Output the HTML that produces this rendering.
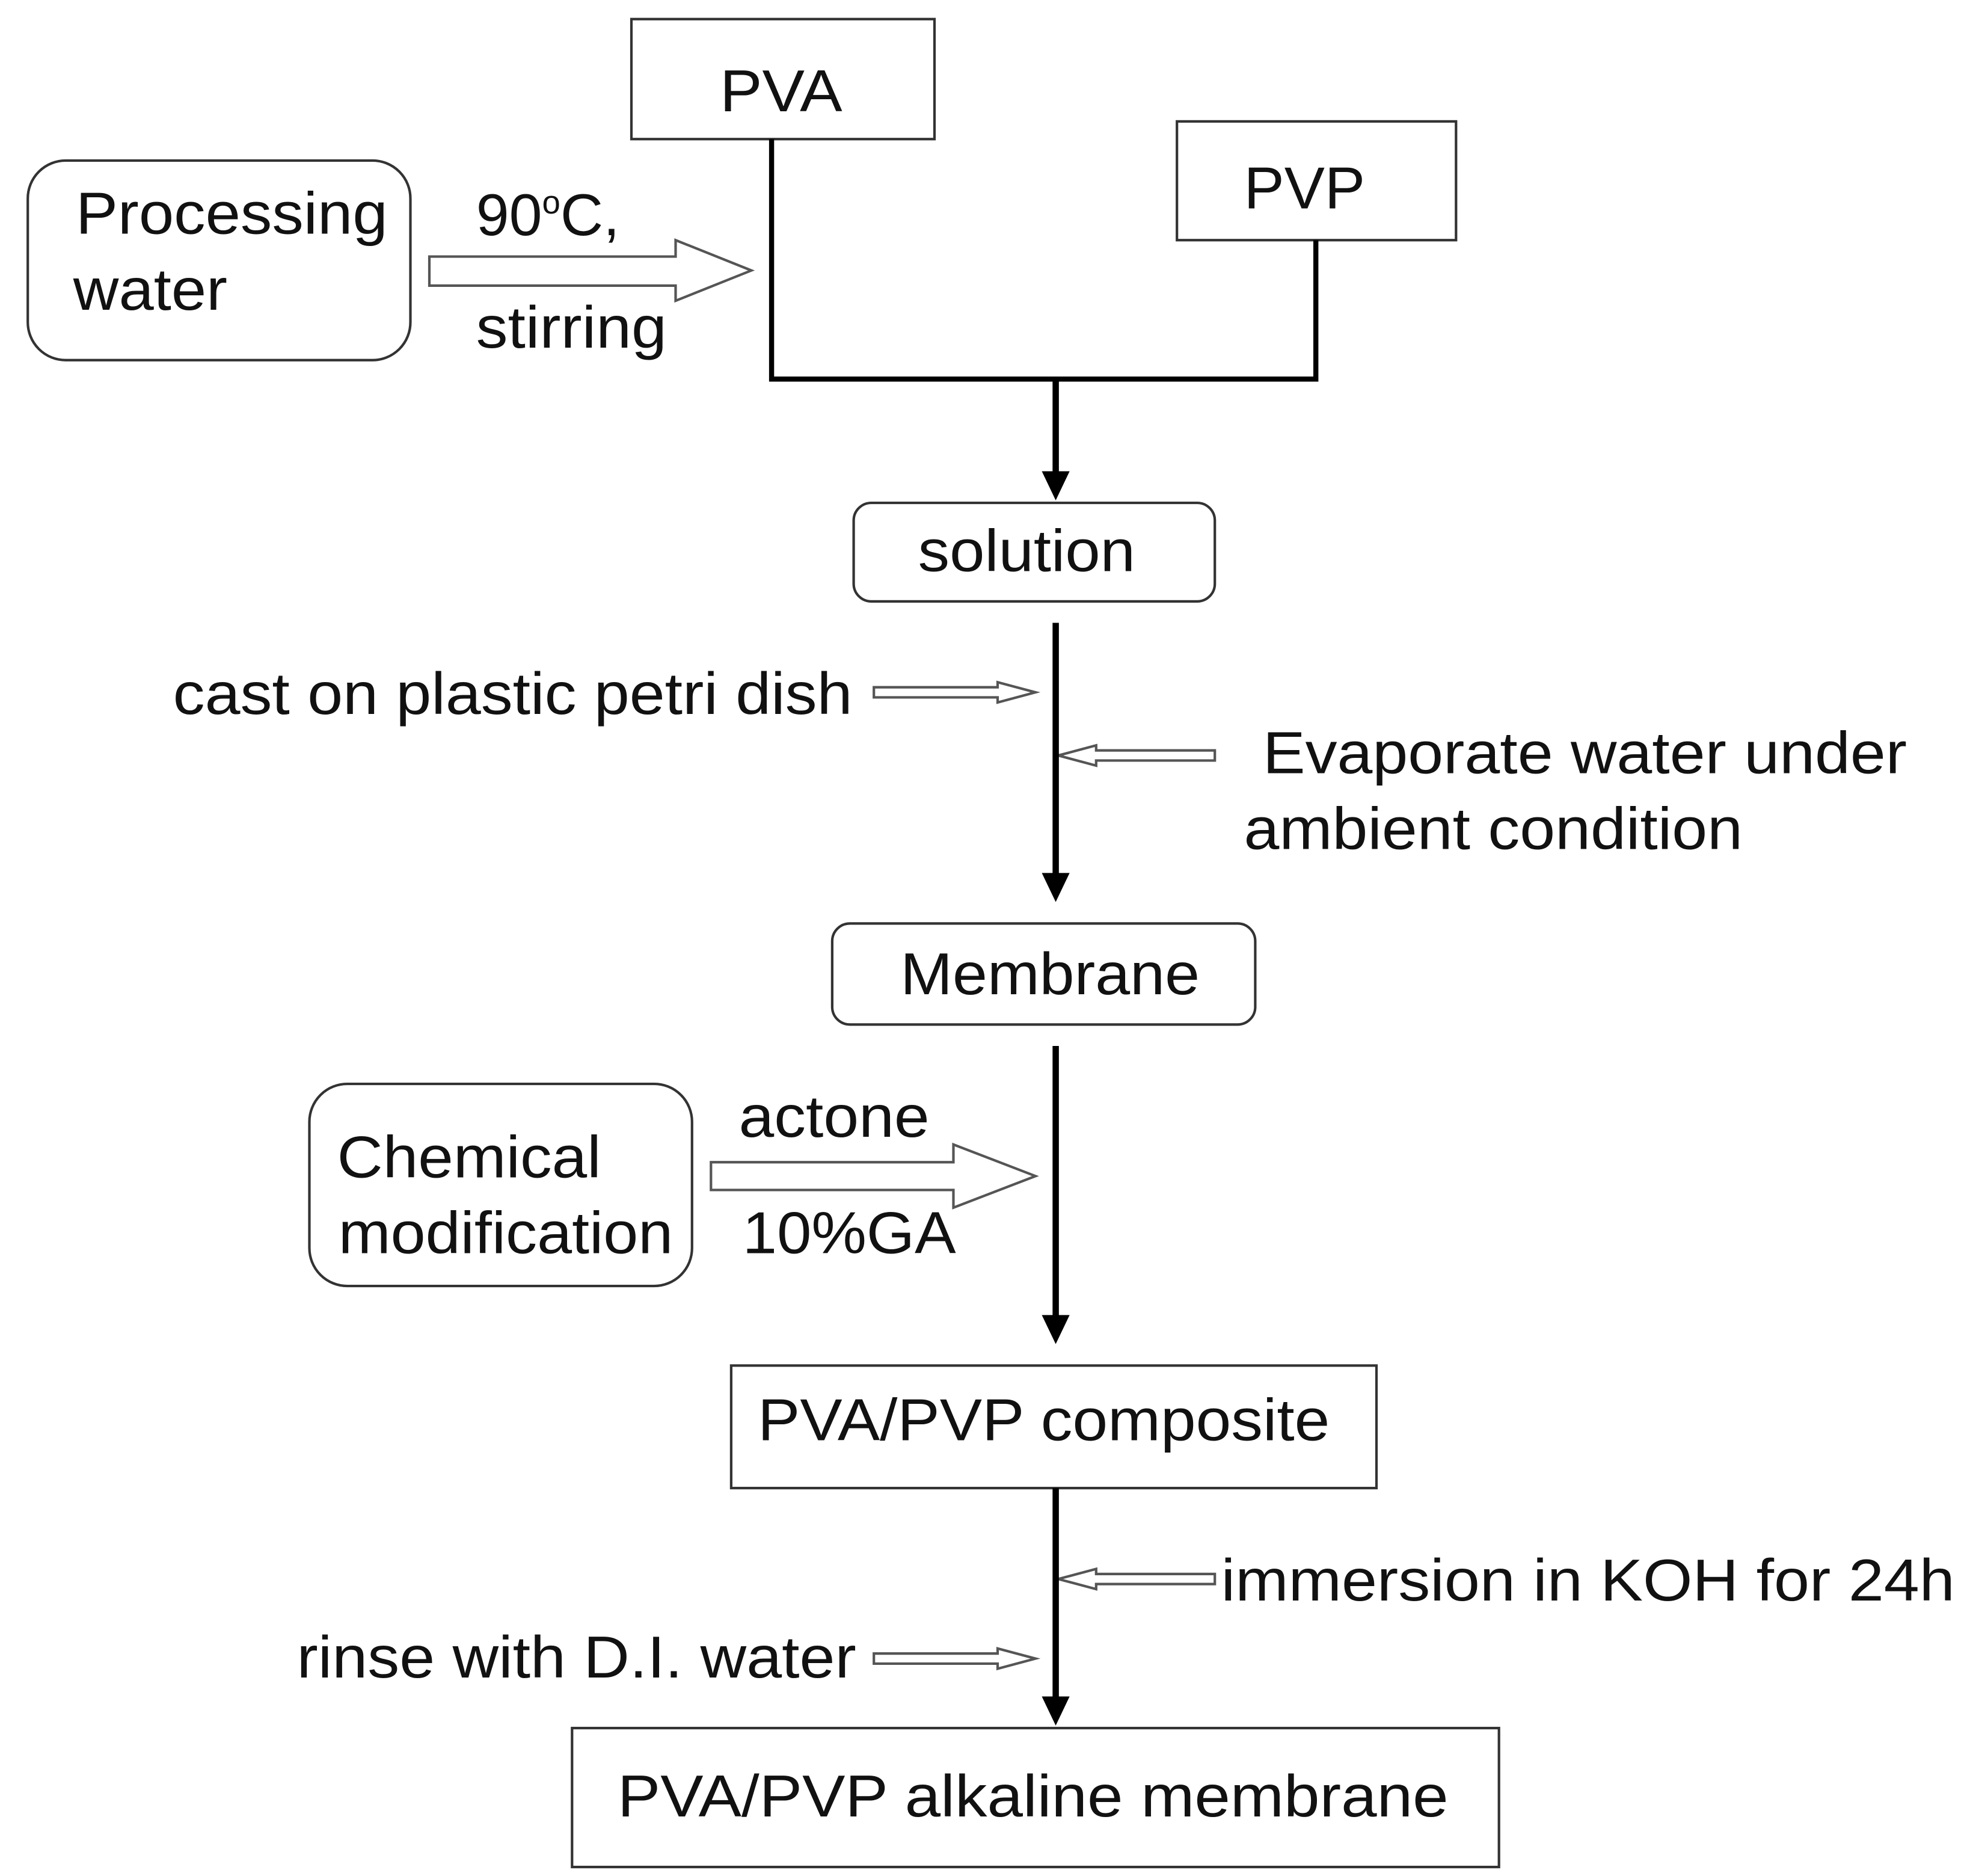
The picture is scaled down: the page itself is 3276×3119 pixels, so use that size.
<!DOCTYPE html>
<html><head><meta charset="utf-8"><style>
html,body{margin:0;padding:0;background:#fff;}
svg{display:block;}
text{font-family:"Liberation Sans",Arial,sans-serif;font-size:47px;fill:#111;}
</style></head><body>
<svg width="3276" height="3119" viewBox="0 0 1560 1485" xmlns="http://www.w3.org/2000/svg">
<g fill="none" stroke="#333" stroke-width="2">
<rect x="500" y="15" width="240" height="95"/>
<rect x="932" y="96" width="221" height="94"/>
<rect x="22" y="127" width="303" height="158" rx="30"/>
<rect x="676" y="398" width="286" height="78" rx="14"/>
<rect x="659" y="731" width="335" height="80" rx="14"/>
<rect x="245" y="858" width="303" height="160" rx="30"/>
<rect x="579" y="1081" width="511" height="97"/>
<rect x="453" y="1368" width="734" height="110"/>
<path d="M340,203 L535,203 L535,190 L595,214 L535,238 L535,226 L340,226 Z" stroke="#555"/>
<path d="M563,920 L755,920 L755,906 L820,931 L755,956 L755,942 L563,942 Z" stroke="#555"/>
<path d="M692,544 L790,544 L790,540 L820,548 L790,556 L790,552 L692,552 Z" stroke="#555"/>
<path d="M962,594 L868,594 L868,590 L838,598 L868,606 L868,602 L962,602 Z" stroke="#555"/>
<path d="M962,1246 L868,1246 L868,1242 L838,1250 L868,1258 L868,1254 L962,1254 Z" stroke="#555"/>
<path d="M692,1309 L790,1309 L790,1305 L820,1313 L790,1321 L790,1317 L692,1317 Z" stroke="#555"/>
</g>
<g stroke="#000" fill="none">
<path d="M611,110 L611,300 L1042,300 L1042,190" stroke-width="4"/>
<line x1="836" y1="300" x2="836" y2="375" stroke-width="5"/>
<line x1="836" y1="493" x2="836" y2="693" stroke-width="5"/>
<line x1="836" y1="828" x2="836" y2="1043" stroke-width="5"/>
<line x1="836" y1="1178" x2="836" y2="1345" stroke-width="5"/>
</g>
<g fill="#000">
<path d="M825,373 L847,373 L836,396 Z"/>
<path d="M825,691 L847,691 L836,714 Z"/>
<path d="M825,1041 L847,1041 L836,1064 Z"/>
<path d="M825,1343 L847,1343 L836,1366 Z"/>
</g>
<g lengthAdjust="spacingAndGlyphs">
<text x="570" y="88" textLength="97" lengthAdjust="spacingAndGlyphs">PVA</text>
<text x="985" y="165" textLength="96" lengthAdjust="spacingAndGlyphs">PVP</text>
<text x="60" y="185" textLength="247" lengthAdjust="spacingAndGlyphs">Processing</text>
<text x="58" y="245" textLength="122" lengthAdjust="spacingAndGlyphs">water</text>
<text x="377" y="186">90<tspan font-size="26" dy="-17">o</tspan><tspan dy="17">C,</tspan></text>
<text x="377" y="275" textLength="151" lengthAdjust="spacingAndGlyphs">stirring</text>
<text x="727" y="452" textLength="172" lengthAdjust="spacingAndGlyphs">solution</text>
<text x="137" y="565" textLength="538" lengthAdjust="spacingAndGlyphs">cast on plastic petri dish</text>
<text x="1000" y="612" textLength="510" lengthAdjust="spacingAndGlyphs">Evaporate water under</text>
<text x="985" y="672" textLength="395" lengthAdjust="spacingAndGlyphs">ambient condition</text>
<text x="713" y="787" textLength="237" lengthAdjust="spacingAndGlyphs">Membrane</text>
<text x="267" y="932" textLength="209" lengthAdjust="spacingAndGlyphs">Chemical</text>
<text x="268" y="992" textLength="265" lengthAdjust="spacingAndGlyphs">modification</text>
<text x="585" y="900" textLength="151" lengthAdjust="spacingAndGlyphs">actone</text>
<text x="588" y="992" textLength="169" lengthAdjust="spacingAndGlyphs">10%GA</text>
<text x="600" y="1140" textLength="453" lengthAdjust="spacingAndGlyphs">PVA/PVP composite</text>
<text x="967" y="1267" textLength="581" lengthAdjust="spacingAndGlyphs">immersion in KOH for 24h</text>
<text x="235" y="1328" textLength="443" lengthAdjust="spacingAndGlyphs">rinse with D.I. water</text>
<text x="489" y="1438" textLength="658" lengthAdjust="spacingAndGlyphs">PVA/PVP alkaline membrane</text>
</g>
</svg>
</body></html>
